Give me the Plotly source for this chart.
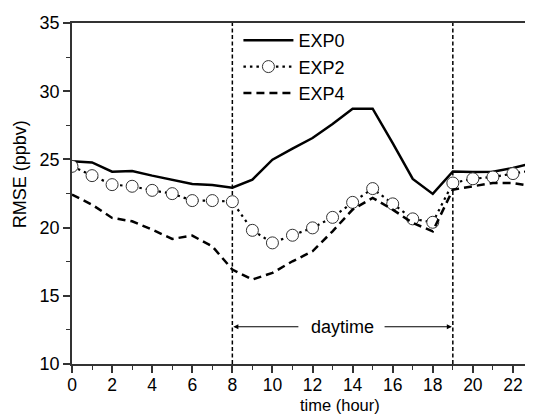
import plotly.graph_objects as go

hours = list(range(24))
exp0 = [24.86, 24.78, 24.10, 24.15, 23.81, 23.52, 23.20, 23.13, 22.93, 23.52, 24.98, 25.79,
        26.57, 27.60, 28.72, 28.72, 26.20, 23.57, 22.47, 24.12, 24.08, 24.10, 24.37, 24.74]
exp2 = [24.49, 23.81, 23.15, 23.03, 22.73, 22.49, 21.98, 21.98, 21.90, 19.80, 18.88, 19.44,
        19.98, 20.75, 21.85, 22.86, 21.74, 20.64, 20.39, 23.27, 23.58, 23.71, 23.96, 24.20]
exp4 = [22.42, 21.68, 20.71, 20.46, 19.85, 19.17, 19.41, 18.63, 16.92, 16.19, 16.68, 17.53,
        18.26, 19.73, 21.32, 22.18, 21.32, 20.34, 19.73, 22.78, 23.03, 23.27, 23.27, 23.03]
names = ["EXP0", "EXP2", "EXP4"]
day_start, day_end = 8, 19
daytime_label = "daytime"
x_ticks = list(range(0, 24, 2))
y_ticks = [10, 15, 20, 25, 30, 35]

FONT = "Liberation Sans, Arial, sans-serif"
FS = 18
fig = go.Figure()
fig.add_trace(go.Scatter(x=hours, y=exp0, name=names[0], mode="lines",
                         line=dict(color="black", width=2.5)))
fig.add_trace(go.Scatter(x=hours, y=exp2, name=names[1], mode="lines+markers",
                         line=dict(color="black", width=2.2, dash="2.5px,4px"),
                         marker=dict(symbol="circle", size=12, color="white",
                                     line=dict(color="#333", width=1))))
fig.add_trace(go.Scatter(x=hours, y=exp4, name=names[2], mode="lines",
                         line=dict(color="black", width=2.5, dash="8px,5px")))

for xv in (day_start, day_end):
    fig.add_shape(type="line", xref="x", yref="paper", x0=xv, x1=xv, y0=0, y1=1,
                  line=dict(color="black", width=1.5, dash="4px,2.5px"), layer="below")

ya = 12.73
fig.add_annotation(x=day_start + 0.05, y=ya, ax=11.37, ay=ya, xref="x", yref="y",
                   axref="x", ayref="y", text="", showarrow=True, arrowhead=2,
                   arrowsize=1, arrowwidth=1, arrowcolor="black")
fig.add_annotation(x=day_end - 0.05, y=ya, ax=15.52, ay=ya, xref="x", yref="y",
                   axref="x", ayref="y", text="", showarrow=True, arrowhead=2,
                   arrowsize=1, arrowwidth=1, arrowcolor="black")
fig.add_annotation(x=(day_start + day_end) / 2, y=ya, xref="x", yref="y",
                   text=daytime_label, showarrow=False,
                   font=dict(size=FS, color="black", family=FONT))

fig.add_annotation(x=0.581, y=-0.1188, xref="paper", yref="paper", text="time (hour)",
                   showarrow=False, font=dict(size=16.5, color="black", family=FONT),
                   xanchor="center", yanchor="middle")
fig.add_annotation(x=-0.113, y=0.556, xref="paper", yref="paper", text="RMSE (ppbv)",
                   showarrow=False, textangle=-90,
                   font=dict(size=FS, color="black", family=FONT),
                   xanchor="center", yanchor="middle")

fig.update_layout(
    width=525, height=406,
    margin=dict(l=64, r=0, t=15, b=50),
    paper_bgcolor="white", plot_bgcolor="white",
    font=dict(family=FONT, size=FS, color="black"),
    showlegend=True,
    legend=dict(x=0.361, y=1.003, xanchor="left", yanchor="top",
                bgcolor="rgba(0,0,0,0)", font=dict(size=FS, family=FONT),
                itemwidth=50),
)
fig.update_xaxes(range=[0, 23], tickvals=x_ticks, ticks="outside", ticklen=7, tickwidth=1.5,
                 tickcolor="#333", showline=True, linecolor="#333", linewidth=1.5, mirror=True,
                 showgrid=False, zeroline=False, ticklabelstandoff=-3,
                 minor=dict(dtick=1, tick0=0, ticks="outside", ticklen=4, tickwidth=1.2,
                            tickcolor="#333", showgrid=False),
                 tickfont=dict(size=17.5, color="black", family=FONT))
fig.update_yaxes(range=[10, 35], tickvals=y_ticks, ticks="outside", ticklen=7, tickwidth=1.5,
                 tickcolor="#333", showline=True, linecolor="#333", linewidth=1.5,
                 showgrid=False, zeroline=False,
                 minor=dict(dtick=2.5, tick0=0, ticks="outside", ticklen=4, tickwidth=1.2,
                            tickcolor="#333", showgrid=False),
                 tickfont=dict(size=FS, color="black", family=FONT))

fig.write_html("out.html")
